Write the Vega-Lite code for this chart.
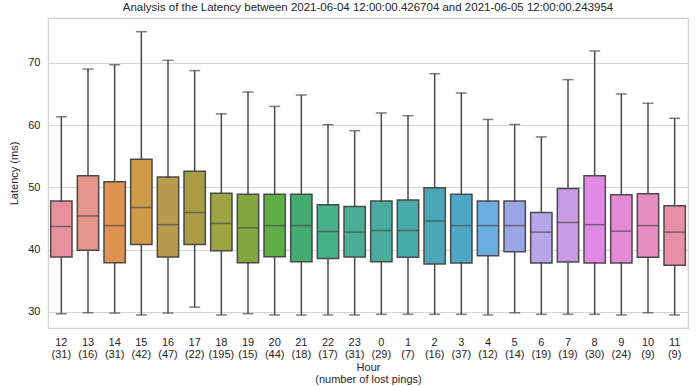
{
  "$schema": "https://vega.github.io/schema/vega-lite/v6.json",
  "width": 640,
  "height": 310,
  "autosize": {"type": "none"},
  "padding": {"left": 48, "top": 18, "right": 12, "bottom": 59},
  "background": "white",
  "title": {
    "text": "Analysis of the Latency between 2021-06-04 12:00:00.426704 and 2021-06-05 12:00:00.243954",
    "font": "Liberation Sans",
    "fontSize": 11.5,
    "fontWeight": "normal",
    "color": "#262626",
    "offset": 5
  },
  "config": {
    "view": {"stroke": "#d0d0d0", "strokeWidth": 1.2},
    "font": "Liberation Sans"
  },
  "data": {
    "values": [
      {"label": "12|(31)", "low": 29.7, "q1": 38.8, "med": 43.7, "q3": 47.8, "high": 61.35},
      {"label": "13|(16)", "low": 29.85, "q1": 39.9, "med": 45.4, "q3": 51.85, "high": 69.0},
      {"label": "14|(31)", "low": 29.8, "q1": 37.9, "med": 43.85, "q3": 50.9, "high": 69.7},
      {"label": "15|(42)", "low": 29.5, "q1": 40.8, "med": 46.75, "q3": 54.5, "high": 75.0},
      {"label": "16|(47)", "low": 29.8, "q1": 38.8, "med": 44.0, "q3": 51.65, "high": 70.4},
      {"label": "17|(22)", "low": 30.75, "q1": 40.8, "med": 45.95, "q3": 52.6, "high": 68.75},
      {"label": "18|(195)", "low": 29.5, "q1": 39.8, "med": 44.2, "q3": 49.05, "high": 61.8},
      {"label": "19|(15)", "low": 29.7, "q1": 37.9, "med": 43.5, "q3": 48.9, "high": 65.3},
      {"label": "20|(44)", "low": 29.5, "q1": 38.85, "med": 43.85, "q3": 48.9, "high": 63.0},
      {"label": "21|(18)", "low": 29.5, "q1": 38.05, "med": 43.85, "q3": 48.9, "high": 64.85},
      {"label": "22|(17)", "low": 29.5, "q1": 38.55, "med": 42.9, "q3": 47.2, "high": 60.05},
      {"label": "23|(31)", "low": 29.5, "q1": 38.8, "med": 42.8, "q3": 46.9, "high": 59.1},
      {"label": "0|(29)", "low": 29.6, "q1": 38.05, "med": 43.05, "q3": 47.8, "high": 61.95},
      {"label": "1|(7)", "low": 29.6, "q1": 38.75, "med": 43.05, "q3": 47.95, "high": 61.5},
      {"label": "2|(16)", "low": 29.6, "q1": 37.7, "med": 44.6, "q3": 49.95, "high": 68.25},
      {"label": "3|(37)", "low": 29.6, "q1": 37.85, "med": 43.85, "q3": 48.9, "high": 65.15},
      {"label": "4|(12)", "low": 29.5, "q1": 39.0, "med": 43.85, "q3": 47.8, "high": 60.9},
      {"label": "5|(14)", "low": 29.85, "q1": 39.65, "med": 43.85, "q3": 47.8, "high": 60.1},
      {"label": "6|(19)", "low": 29.6, "q1": 37.85, "med": 42.8, "q3": 45.95, "high": 58.1},
      {"label": "7|(19)", "low": 29.6, "q1": 38.0, "med": 44.35, "q3": 49.8, "high": 67.3},
      {"label": "8|(30)", "low": 29.6, "q1": 37.85, "med": 44.0, "q3": 51.85, "high": 71.9},
      {"label": "9|(24)", "low": 29.5, "q1": 37.85, "med": 42.95, "q3": 48.8, "high": 65.0},
      {"label": "10|(9)", "low": 29.85, "q1": 38.75, "med": 43.85, "q3": 48.95, "high": 63.5},
      {"label": "11|(9)", "low": 29.5, "q1": 37.5, "med": 42.8, "q3": 47.05, "high": 61.1}
    ]
  },
  "encoding": {
    "x": {
      "field": "label",
      "type": "nominal",
      "sort": null,
      "scale": {"paddingInner": 0.2, "paddingOuter": 0.1},
      "axis": {
        "labelExpr": "split(datum.label, '|')",
        "labelAngle": 0,
        "labelFontSize": 11,
        "labelLineHeight": 12,
        "labelColor": "#262626",
        "labelPadding": 8,
        "ticks": false,
        "domain": false,
        "grid": false,
        "title": ["Hour", "(number of lost pings)"],
        "titleFontSize": 11,
        "titleFontWeight": "normal",
        "titleColor": "#262626",
        "titleLineHeight": 12,
        "titlePadding": 2
      }
    }
  },
  "layer": [
    {
      "mark": {"type": "rule", "color": "#4a4a4a", "strokeWidth": 1.5},
      "encoding": {
        "y": {
          "field": "low",
          "type": "quantitative",
          "scale": {"domain": [27.4, 77.2], "nice": false, "zero": false},
          "axis": {
            "values": [30, 40, 50, 60, 70],
            "labelFontSize": 11,
            "labelColor": "#262626",
            "labelPadding": 8,
            "ticks": false,
            "domain": false,
            "grid": true,
            "gridColor": "#d5d5d5",
            "gridWidth": 1,
            "title": "Latency (ms)",
            "titleFontSize": 11,
            "titleFontWeight": "normal",
            "titleColor": "#262626",
            "titlePadding": 8
          }
        },
        "y2": {"field": "high"}
      }
    },
    {
      "mark": {"type": "bar", "stroke": "#4a4a4a", "strokeWidth": 1.5},
      "encoding": {
        "y": {"field": "q1", "type": "quantitative"},
        "y2": {"field": "q3"},
        "color": {
          "field": "label",
          "type": "nominal",
          "sort": null,
          "legend": null,
          "scale": {
            "domain": ["12|(31)", "13|(16)", "14|(31)", "15|(42)", "16|(47)", "17|(22)", "18|(195)", "19|(15)", "20|(44)", "21|(18)", "22|(17)", "23|(31)", "0|(29)", "1|(7)", "2|(16)", "3|(37)", "4|(12)", "5|(14)", "6|(19)", "7|(19)", "8|(30)", "9|(24)", "10|(9)", "11|(9)"],
            "range": ["#e8909f", "#e8968b", "#e09251", "#cf9a49", "#b99b4d", "#a89d45", "#9ba343", "#83a641", "#60ae47", "#44ab73", "#4aaf8b", "#49ad97", "#4aac9c", "#4aaaa8", "#4ba7b5", "#4ea7c5", "#6aaee0", "#9aa6e6", "#b6a6ea", "#c99be3", "#e08ae6", "#e68ad6", "#e88dc4", "#e88ea9"]
          }
        }
      }
    },
    {
      "mark": {"type": "tick", "color": "#4a4a4a", "thickness": 1.5, "size": 21},
      "encoding": {"y": {"field": "med", "type": "quantitative"}}
    },
    {
      "mark": {"type": "tick", "color": "#4a4a4a", "thickness": 1.5, "size": 11},
      "encoding": {"y": {"field": "low", "type": "quantitative"}}
    },
    {
      "mark": {"type": "tick", "color": "#4a4a4a", "thickness": 1.5, "size": 11},
      "encoding": {"y": {"field": "high", "type": "quantitative"}}
    }
  ]
}
